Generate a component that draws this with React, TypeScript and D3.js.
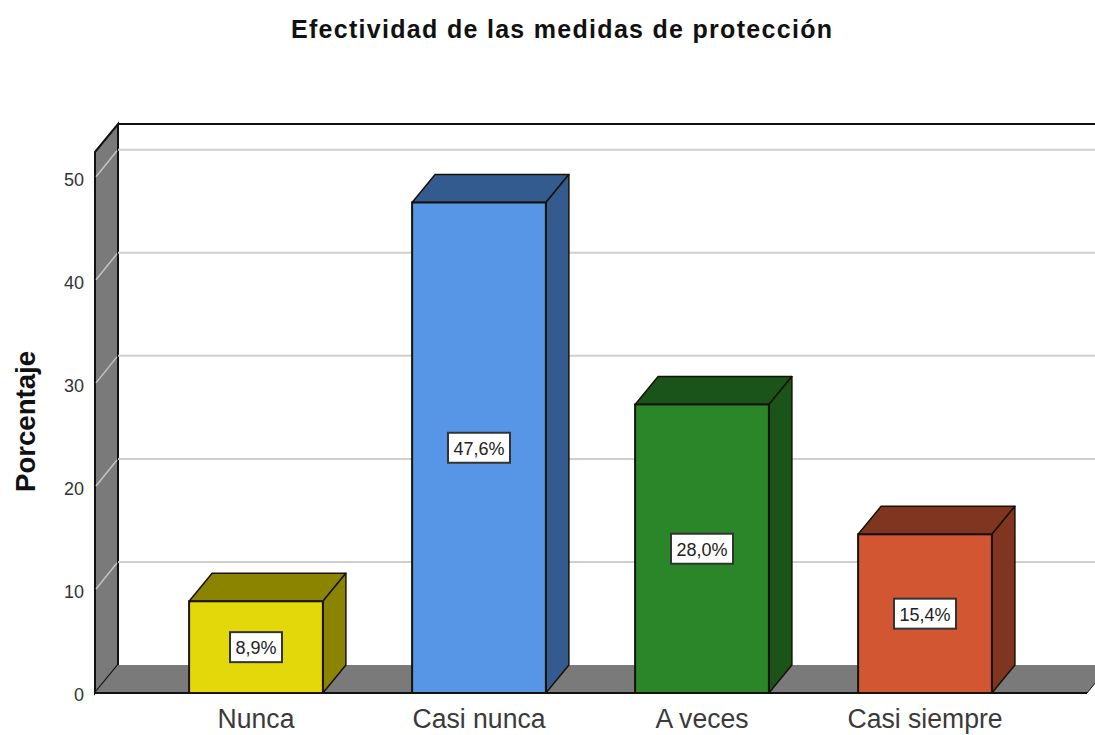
import React from "react";
import * as d3 from "d3";

const categories = ["Nunca", "Casi nunca", "A veces", "Casi siempre"];
const percentages = [8.9, 47.6, 28.0, 15.4];
const frontColors = ["#e3d809", "#5795e6", "#2a8628", "#d25632"];
const darkColors = ["#8a8400", "#335b8f", "#1a541a", "#7f3520"];
const yTicks = [0, 10, 20, 30, 40, 50];
const titleText = "Efectividad de las medidas de protección";
const yLabel = "Porcentaje";

const W = 1095, H = 735;
const DX = 23, DY = -28;
const FONT = "'Liberation Sans', Arial, sans-serif";

export default function App() {
  const y = d3.scaleLinear().domain([0, 52.5]).range([693, 152]);
  const x = d3.scaleBand<string>().domain(categories).range([144.5, 1036.5]).paddingInner(0.4).paddingOuter(0.2);
  const y0 = y(0), yTop = y(52.5), xL = 95, xR = 1087;
  const poly = (pts: number[][]) => pts.map((p) => p.join(",")).join(" ");
  return (
    <svg width={W} height={H} viewBox={`0 0 ${W} ${H}`} style={{ position: "absolute", left: 0, top: 0, background: "#fff" }} fontFamily={FONT}>
      <text x={561.5} y={37.5} textAnchor="middle" fontSize={25} fontWeight="bold" fill="#111" textLength={541} lengthAdjust="spacing">{titleText}</text>
      <line x1={xL + DX} x2={W + 5} y1={yTop + DY} y2={yTop + DY} stroke="#111" strokeWidth={2} />
      <polygon points={poly([[xL, yTop], [xL + DX, yTop + DY], [xL + DX, y0 + DY], [xL, y0]])} fill="#7a7a7a" stroke="#111" strokeWidth={2} />
      {yTicks.filter((t) => t > 0).map((t) => (
        <g key={t}>
          <line x1={xL + DX} x2={W + 5} y1={y(t) + DY} y2={y(t) + DY} stroke="#cfcfcf" strokeWidth={2} />
          <line x1={xL + 1} x2={xL + DX - 1} y1={y(t) - 1} y2={y(t) + DY + 1} stroke="#c4c4c4" strokeWidth={1.5} />
        </g>
      ))}
      <polygon points={poly([[xL, y0], [xL + DX, y0 + DY], [xR + DX, y0 + DY], [xR, y0]])} fill="#7a7a7a" />
      <line x1={xL} x2={xR} y1={y0} y2={y0} stroke="#111" strokeWidth={2} />
      <line x1={xR} x2={xR + DX} y1={y0} y2={y0 + DY} stroke="#111" strokeWidth={1} />
      {yTicks.map((t) => (
        <text key={t} x={84} y={y(t) + 8} textAnchor="end" fontSize={18} fill="#333">{t}</text>
      ))}
      <text transform="translate(35,421.5) rotate(-90)" textAnchor="middle" fontSize={28} fontWeight="bold" fill="#111" textLength={141} lengthAdjust="spacingAndGlyphs">{yLabel}</text>
      {categories.map((c, i) => {
        const x0 = x(c)!, bw = x.bandwidth(), x1 = x0 + bw, top = y(percentages[i]);
        const mid = (top + y0) / 2;
        const label = percentages[i].toFixed(1).replace(".", ",") + "%";
        const boxW = 12 + 10 * label.length;
        return (
          <g key={c}>
            <polygon points={poly([[x0, top], [x0 + DX, top + DY], [x1 + DX, top + DY], [x1, top]])} fill={darkColors[i]} stroke="#1a1200" strokeWidth={1.5} strokeLinejoin="round" />
            <polygon points={poly([[x1, top], [x1 + DX, top + DY], [x1 + DX, y0 + DY], [x1, y0]])} fill={darkColors[i]} stroke="#1a1200" strokeWidth={1.5} strokeLinejoin="round" />
            <rect x={x0} y={top} width={bw} height={y0 - top} fill={frontColors[i]} stroke="#1a1200" strokeWidth={2} />
            <rect x={x0 + bw / 2 - boxW / 2} y={mid - 15} width={boxW} height={30} fill="#fff" stroke="#333" strokeWidth={2} />
            <text x={x0 + bw / 2} y={mid + 7} textAnchor="middle" fontSize={18} fill="#222">{label}</text>
            <text transform={`translate(${x0 + bw / 2},728) scale(0.95,1)`} textAnchor="middle" fontSize={28} fill="#3a3a3a">{c}</text>
          </g>
        );
      })}
    </svg>
  );
}
